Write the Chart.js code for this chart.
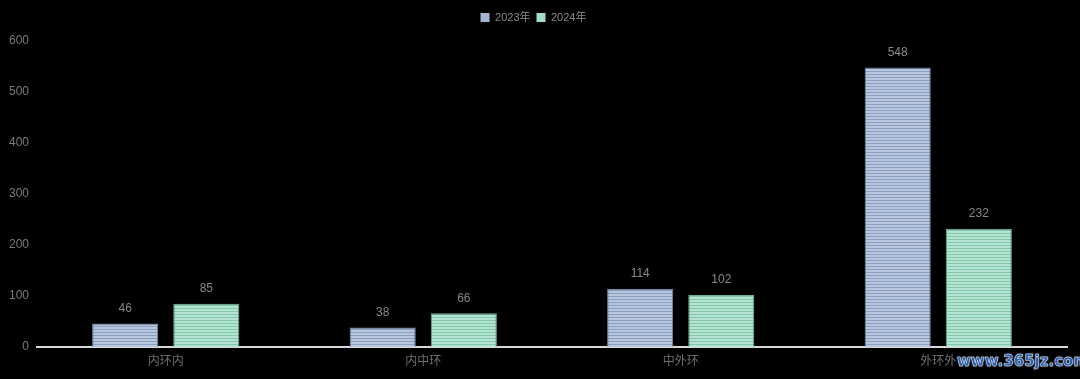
<!DOCTYPE html>
<html>
<head>
<meta charset="utf-8">
<script src="https://cdn.jsdelivr.net/npm/chart.js@4/dist/chart.umd.min.js"></script>
<style>
  html, body { margin:0; padding:0; background:#000; }
  #wrap { position:relative; width:1080px; height:379px; }
  canvas { display:block; }
  #wm { position:absolute; left:957px; top:352px; font-family:"DejaVu Sans", sans-serif; font-weight:bold; font-size:15px;
        color:#2b5fae; -webkit-text-stroke:0.4px #cfd8e8; text-shadow:0 0 2px #c8d4ea, 0 0 1px #fff; white-space:nowrap; }
</style>
</head>
<body>
<div id="wrap">
<canvas id="c" width="1080" height="379"></canvas>
<div id="wm">www.365jz.com</div>
</div>
<script>
const categories = ["内环内", "内中环", "中外环", "外环外"];
const seriesNames = ["2023年", "2024年"];
const values2023 = [46, 38, 114, 548];
const values2024 = [85, 66, 102, 232];
const yTicks = [0, 100, 200, 300, 400, 500, 600];

function stripe(light, dark) {
  const p = document.createElement('canvas');
  p.width = 1; p.height = 3;
  const g = p.getContext('2d');
  g.fillStyle = light; g.fillRect(0, 0, 1, 3);
  g.fillStyle = dark; g.fillRect(0, 2, 1, 1);
  return g.createPattern(p, 'repeat');
}
const ctx0 = document.getElementById('c').getContext('2d');
const blueFill = stripe('#b8c7de', '#8a9fc2');
const greenFill = stripe('#b5e3d3', '#82c8ae');

const valueLabels = {
  id: 'valueLabels',
  beforeInit(chart) {
    const lg = chart.legend;
    if (lg) {
      const orig = lg.fit;
      lg.fit = function () { orig.call(this); this.height += 8; };
    }
  },
  afterDatasetsDraw(chart) {
    const ctx = chart.ctx;
    ctx.save();
    ctx.font = '12px "Liberation Sans", Arial, sans-serif';
    ctx.fillStyle = '#888888';
    ctx.textAlign = 'center';
    ctx.textBaseline = 'bottom';
    chart.data.datasets.forEach((ds, i) => {
      chart.getDatasetMeta(i).data.forEach((bar, j) => {
        ctx.fillText(String(ds.data[j]), bar.x, bar.y - 9);
      });
    });
    ctx.restore();
  }
};

new Chart(ctx0, {
  type: 'bar',
  data: {
    labels: categories,
    datasets: [
      { label: seriesNames[0], data: values2023, backgroundColor: blueFill, borderColor: '#7d90b0', borderWidth: 1, categoryPercentage: 0.63, barPercentage: 0.815 },
      { label: seriesNames[1], data: values2024, backgroundColor: greenFill, borderColor: '#6fae98', borderWidth: 1, categoryPercentage: 0.63, barPercentage: 0.815 }
    ]
  },
  options: {
    responsive: false,
    animation: false,
    layout: { padding: { top: 6, right: 13, left: 0, bottom: 0 } },
    plugins: {
      legend: {
        position: 'top',
        labels: {
          color: '#8a8a8a',
          font: { size: 11, family: '"Liberation Sans", "Noto Sans CJK SC", sans-serif' },
          boxWidth: 9, boxHeight: 9, padding: 6,
          generateLabels(chart) {
            return chart.data.datasets.map((ds, i) => ({
              text: ds.label, fillStyle: i === 0 ? '#a3b6d6' : '#a3dcc8', strokeStyle: 'transparent', lineWidth: 0, datasetIndex: i, fontColor: '#8a8a8a'
            }));
          }
        }
      },
      tooltip: { enabled: false }
    },
    scales: {
      x: {
        grid: { display: false, drawTicks: false },
        border: { display: true, color: '#d9d9d9', width: 2 },
        ticks: { color: '#707070', font: { size: 12, family: '"Noto Sans CJK SC", sans-serif' }, padding: 6 },
        afterFit(s) { s.height = 32; }
      },
      y: {
        min: 0, max: 600,
        afterBuildTicks(s) { s.ticks = yTicks.map(v => ({ value: v })); },
        grid: { display: false, drawTicks: false },
        border: { display: false },
        ticks: { color: '#7a7a7a', font: { size: 12, family: '"Liberation Sans", Arial, sans-serif' }, padding: 8 },
        afterFit(s) { s.width = 37; }
      }
    }
  },
  plugins: [valueLabels]
});
</script>
</body>
</html>
